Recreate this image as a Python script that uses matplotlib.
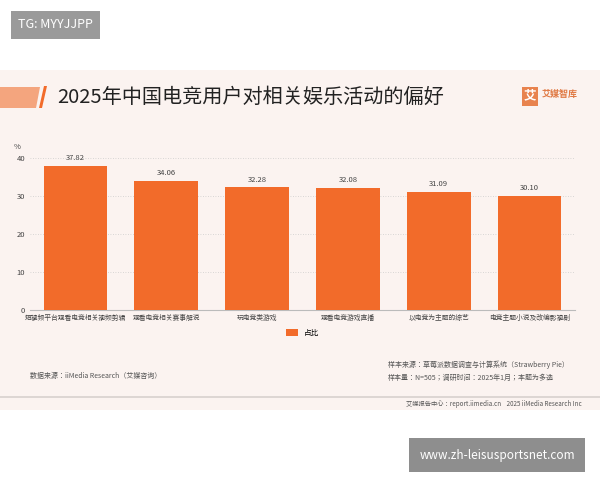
import matplotlib.pyplot as plt
from matplotlib.patches import Rectangle, Polygon
from matplotlib import font_manager

names = {f.name for f in font_manager.fontManager.ttflist}
cjk = [n for n in ["Noto Sans CJK SC", "Noto Sans CJK JP", "Noto Sans CJK TC", "Noto Sans CJK KR"] if n in names]
plt.rcParams["font.family"] = cjk + ["DejaVu Sans"]

categories = ["短视频平台观看电竞相关视频剪辑", "观看电竞相关赛事解说", "玩电竞类游戏",
              "观看电竞游戏直播", "以电竞为主题的综艺", "电竞主题小说及改编影视剧"]
values = [37.82, 34.06, 32.28, 32.08, 31.09, 30.10]
yticks = [0, 10, 20, 30, 40]
bar_color = "#F26B2A"

fig = plt.figure(figsize=(6, 4.8), dpi=100)
fig.patch.set_facecolor("white")

# card background
fig.patches.append(Rectangle((0, 1 - 410 / 480), 1, 340 / 480, transform=fig.transFigure,
                             facecolor="#FBF3F0", edgecolor="none", zorder=-5))
fig.patches.append(Rectangle((0, 1 - 398 / 480), 1, 0.004, transform=fig.transFigure,
                             facecolor="#DDD6D3", edgecolor="none", zorder=-4))
# title accent
fig.patches.append(Polygon([(0, 1 - 87 / 480), (40 / 600, 1 - 87 / 480), (36 / 600, 1 - 108 / 480),
                            (0, 1 - 108 / 480)], closed=True, transform=fig.transFigure,
                           facecolor="#F4A57E", edgecolor="none", zorder=-4))
fig.patches.append(Polygon([(44 / 600, 1 - 86 / 480), (47 / 600, 1 - 86 / 480), (42 / 600, 1 - 108 / 480),
                            (39 / 600, 1 - 108 / 480)], closed=True, transform=fig.transFigure,
                           facecolor="#F26B2A", edgecolor="none", zorder=-4))
fig.text(57 / 600, 1 - 97 / 480, "2025年中国电竞用户对相关娱乐活动的偏好", fontsize=14.5,
         va="center", ha="left", color="#222222")
fig.text(542 / 600, 1 - 94 / 480, "艾媒智库", fontsize=6.5, color="#E07A45", ha="left", va="center",
         fontweight="bold")
fig.patches.append(Rectangle((522 / 600, 1 - 106 / 480), 16 / 600, 19 / 480, transform=fig.transFigure,
                             facecolor="#E8834E", edgecolor="none", zorder=-4))
fig.text(530 / 600, 1 - 96 / 480, "艾", fontsize=9, color="white", ha="center", va="center",
         fontweight="bold")

# watermark boxes
fig.text(18 / 600, 1 - 25 / 480, "TG: MYYJJPP", fontsize=9, color="white", va="center",
         bbox=dict(boxstyle="square,pad=0.6", facecolor="#9A9A9A", edgecolor="none"))
fig.text(497 / 600, 1 - 455 / 480, "www.zh-leisusportsnet.com", fontsize=8.5, color="white",
         va="center", ha="center",
         bbox=dict(boxstyle="square,pad=0.9", facecolor="#8E8E8E", edgecolor="none"))

ax = fig.add_axes([30 / 600, 1 - 310 / 480, 545 / 600, 152 / 480])
ax.set_zorder(5)
ax.set_facecolor("none")
x = range(len(categories))
bars = ax.bar(x, values, width=0.7, color=bar_color, label="占比", zorder=3)
for xi, v in zip(x, values):
    ax.text(xi, v + 1.0, f"{v:.2f}", ha="center", va="bottom", fontsize=5.5, color="#444444")
ax.set_ylim(0, 40)
ax.set_xlim(-0.5, len(categories) - 0.5)
ax.set_yticks(yticks)
ax.tick_params(axis="y", labelsize=5.5, length=0, colors="#444444")
ax.set_xticks(list(x))
ax.set_xticklabels(categories, fontsize=4.9, color="#444444")
ax.tick_params(axis="x", length=0, pad=3)
ax.grid(axis="y", linestyle=(0, (1, 2)), color="#CCCCCC", linewidth=0.6, zorder=0)
for s in ["top", "right", "left"]:
    ax.spines[s].set_visible(False)
ax.spines["bottom"].set_color("#BBBBBB")
ax.text(-0.03, 1.06, "%", transform=ax.transAxes, fontsize=5.5, color="#444444")
ax.legend(loc="upper center", bbox_to_anchor=(0.5, -0.08), frameon=False, fontsize=5.5,
          handlelength=1.5, handleheight=1.0)

fig.text(30 / 600, 1 - 378 / 480, "数据来源：iiMedia Research（艾媒咨询）", fontsize=5, color="#555555")
fig.text(388 / 600, 1 - 367 / 480, "样本来源：草莓派数据调查与计算系统（Strawberry Pie）", fontsize=5,
         color="#555555")
fig.text(388 / 600, 1 - 380 / 480, "样本量：N=505；调研时间：2025年1月；本题为多选", fontsize=5,
         color="#555555")
fig.text(582 / 600, 1 - 400 / 480, "艾媒报告中心：report.iimedia.cn    2025 iiMedia Research Inc",
         fontsize=4.5, color="#555555", ha="right", va="top")

fig.savefig("out.png", dpi=100)
